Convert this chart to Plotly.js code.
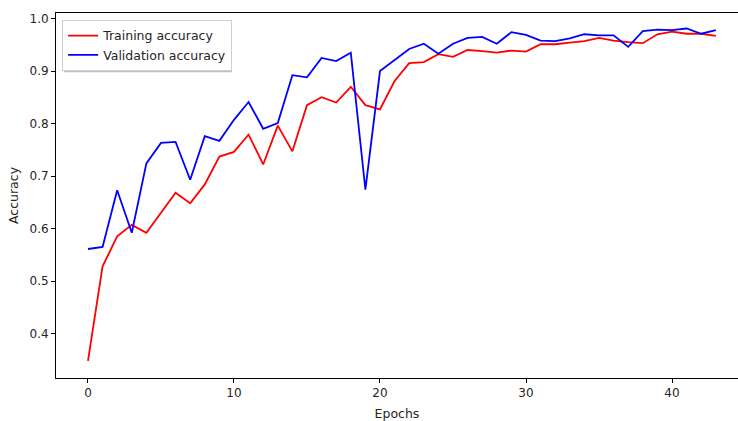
<!DOCTYPE html>
<html>
<head>
<meta charset="utf-8">
<script src="https://cdn.plot.ly/plotly-3.0.1.min.js"></script>
<style>html,body{margin:0;padding:0;background:#fff;}#chart{width:738px;height:421px;}</style>
</head>
<body>
<div id="chart"></div>
<script>
const epochs = [0,1,2,3,4,5,6,7,8,9,10,11,12,13,14,15,16,17,18,19,20,21,22,23,24,25,26,27,28,29,30,31,32,33,34,35,36,37,38,39,40,41,42,43];
const trainAcc = [0.348,0.528,0.585,0.607,0.592,0.629,0.668,0.648,0.684,0.737,0.746,0.779,0.722,0.796,0.747,0.835,0.850,0.840,0.870,0.835,0.827,0.881,0.915,0.917,0.932,0.927,0.940,0.938,0.935,0.939,0.937,0.951,0.951,0.954,0.957,0.963,0.958,0.955,0.953,0.970,0.975,0.971,0.971,0.967];
const valAcc = [0.561,0.565,0.673,0.592,0.724,0.763,0.765,0.693,0.776,0.767,0.807,0.841,0.790,0.801,0.892,0.888,0.925,0.919,0.935,0.674,0.900,0.921,0.942,0.952,0.933,0.952,0.963,0.965,0.952,0.974,0.969,0.958,0.957,0.962,0.970,0.968,0.968,0.946,0.976,0.979,0.978,0.981,0.971,0.978];
const yTicks = [0.4,0.5,0.6,0.7,0.8,0.9,1.0];
const yTickText = ["0.4","0.5","0.6","0.7","0.8","0.9","1.0"];
const xTicks = [0,10,20,30,40];

const font = {family: "DejaVu Sans, sans-serif", size: 12, color: "#262626"};
const legendFont = {family: "DejaVu Sans, sans-serif", size: 12.5, color: "#262626"};
const titleFont = {family: "DejaVu Sans, sans-serif", size: 12.5, color: "#262626"};
const traces = [
  {x: epochs, y: trainAcc, type: "scatter", mode: "lines", name: "Training accuracy", line: {color: "#ff0000", width: 1.8}},
  {x: epochs, y: valAcc, type: "scatter", mode: "lines", name: "Validation accuracy", line: {color: "#0000ff", width: 1.8}}
];
const layout = {
  width: 738, height: 421,
  margin: {l: 56, r: 0, t: 13, b: 43},
  paper_bgcolor: "#fff", plot_bgcolor: "#fff",
  font: font,
  showlegend: true,
  legend: {x: 0.009, y: 0.981, xanchor: "left", yanchor: "top", bgcolor: "#fff", bordercolor: "#cfcfcf", borderwidth: 1, font: legendFont, tracegroupgap: 0},
  xaxis: {
    range: [-2.19, 44.52], showgrid: false, zeroline: false,
    showline: true, linecolor: "#000", linewidth: 1, mirror: true,
    ticks: "outside", ticklen: 4, tickcolor: "#000",
    tickvals: xTicks, tickfont: font,
    title: {text: "Epochs", font: titleFont, standoff: 10}
  },
  yaxis: {
    range: [0.3153, 1.0105], showgrid: false, zeroline: false,
    showline: true, linecolor: "#000", linewidth: 1, mirror: false,
    ticks: "outside", ticklen: 4, tickcolor: "#000",
    tickvals: yTicks, ticktext: yTickText, tickfont: font,
    title: {text: "Accuracy", font: titleFont, standoff: 8}
  },
  shapes: [
    {type: "rect", xref: "paper", yref: "paper", x0: 0.0117, x1: 0.2580, y0: 0.838, y1: 0.972, fillcolor: "#9a9a9a", line: {width: 0}, layer: "above", opacity: 0.6}
  ]
};
Plotly.newPlot("chart", traces, layout, {displayModeBar: false, staticPlot: true});
</script>
</body>
</html>
